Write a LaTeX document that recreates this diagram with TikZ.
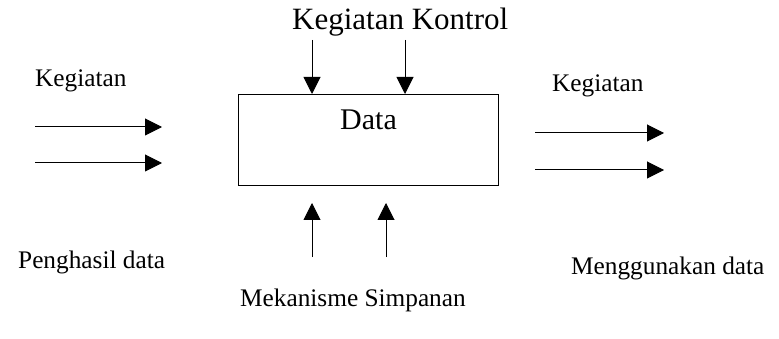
\documentclass[tikz,border=0pt]{standalone}
\usepackage{fontspec}
\setmainfont{Liberation Serif}
\usetikzlibrary{arrows.meta}
\begin{document}
\begin{tikzpicture}[x=1pt,y=-1pt,
  lbl/.style={font=\fontsize{25.3}{30}\selectfont, anchor=base west, inner sep=0pt},
  flow/.style={line width=1pt, -{Triangle[length=17pt,width=17pt]}},
  databox/.style={draw, line width=1pt, minimum width=260pt, minimum height=91pt, inner sep=0pt, anchor=north west}]
\useasboundingbox[fill=white] (0,0) rectangle (779,339);
% box
\node[databox] (d) at (238,94) {};
\node[lbl, font=\fontsize{30}{34}\selectfont] (dt) at (340,130) {Data};
% labels
\node[lbl, font=\fontsize{31}{35}\selectfont] (ktl) at (292,30) {Kegiatan Kontrol};
\node[lbl] (kin) at (35,87) {Kegiatan};
\node[lbl] (kout) at (552,92) {Kegiatan};
\node[lbl] (pd) at (18,268) {Penghasil data};
\node[lbl] (md) at (571,274) {Menggunakan data};
\node[lbl] (ms) at (240,306) {Mekanisme Simpanan};
% arrow end points
\coordinate (l1a) at (35,127);  \coordinate (l1b) at (162,127);
\coordinate (l2a) at (35,163);  \coordinate (l2b) at (162,163);
\coordinate (r1a) at (535,133); \coordinate (r1b) at (664,133);
\coordinate (r2a) at (535,170); \coordinate (r2b) at (664,170);
\coordinate (t1) at (312,40);   \coordinate (t2) at (405,40);
\coordinate (b1a) at (312,257); \coordinate (b1b) at (312,203);
\coordinate (b2a) at (386,257); \coordinate (b2b) at (386,203);
% arrows
\draw[flow] (l1a) -- (l1b);
\draw[flow] (l2a) -- (l2b);
\draw[flow] (r1a) -- (r1b);
\draw[flow] (r2a) -- (r2b);
\draw[flow] (t1) -- (t1 |- d.north);
\draw[flow] (t2) -- (t2 |- d.north);
\draw[flow] (b1a) -- (b1b);
\draw[flow] (b2a) -- (b2b);
\end{tikzpicture}
\end{document}
